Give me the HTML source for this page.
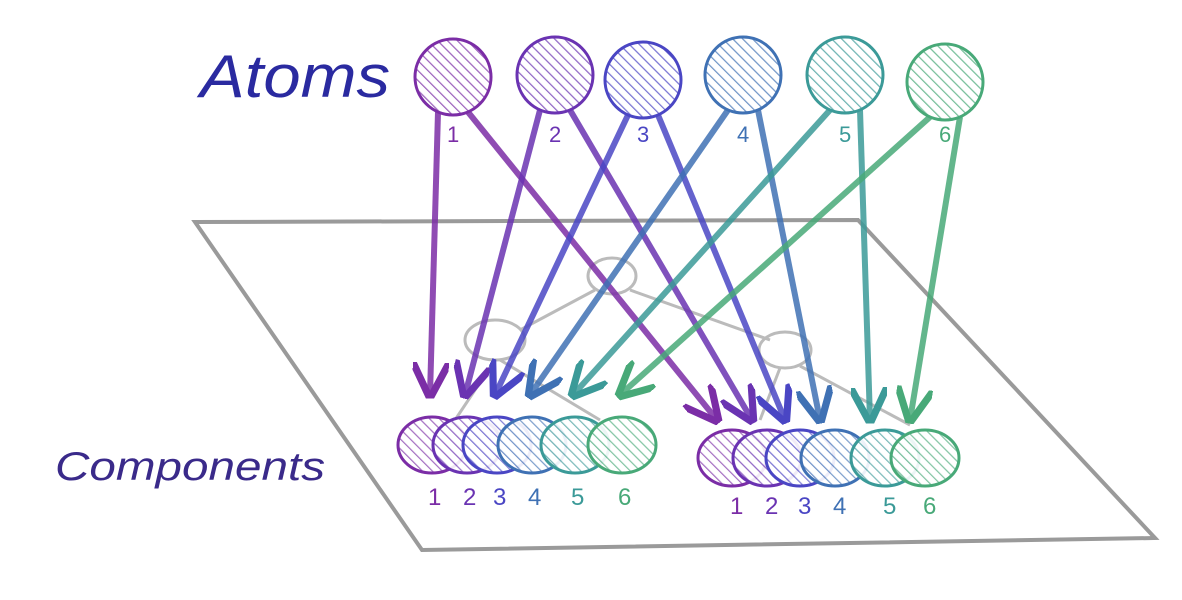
<!DOCTYPE html>
<html><head><meta charset="utf-8"><style>
html,body{margin:0;padding:0;background:#fff;width:1182px;height:600px;overflow:hidden}
svg text{font-family:"Liberation Sans",sans-serif}
</style></head><body>
<svg id="chart" width="1182" height="600" viewBox="0 0 1182 600" xmlns="http://www.w3.org/2000/svg">
<defs>
<marker id="ah" viewBox="0 0 10 10" refX="9" refY="5" markerWidth="6" markerHeight="6" orient="auto-start-reverse" markerUnits="strokeWidth"><path d="M0,0 L10,5 L0,10" fill="none" stroke="context-stroke" stroke-width="2"/></marker>
</defs>
<g id="plane">
<polygon points="195,222 858,220 1155,538 422,550" fill="none" stroke="#9a9a9a" stroke-width="4"/>
</g>
<g stroke="#bbb" stroke-width="3" fill="none">
<ellipse cx="612" cy="276" rx="24" ry="18"/><ellipse cx="495" cy="340" rx="30" ry="20"/><ellipse cx="785" cy="350" rx="26" ry="18"/>
<line x1="595" y1="290" x2="520" y2="330"/><line x1="630" y1="290" x2="770" y2="340"/>
<line x1="495" y1="360" x2="455" y2="420"/><line x1="500" y1="360" x2="600" y2="420"/>
<line x1="780" y1="368" x2="760" y2="420"/><line x1="800" y1="366" x2="910" y2="425"/>
</g>
<text x="200" y="97" font-size="60" fill="#2a2aa0" font-style="italic" textLength="190" lengthAdjust="spacingAndGlyphs">Atoms</text>
<text x="55" y="480" font-size="40" fill="#3a2a8a" font-style="italic" textLength="270" lengthAdjust="spacingAndGlyphs">Components</text>
<g id="content"></g>
</svg>
<script>
const colors=["#7b2da6","#6a33b2","#4a46c4","#3f71b4","#3b9a98","#48a978"];
const atomLabels=["1","2","3","4","5","6"];
const atomX=[453,555,643,743,845,945];
const atomY=[77,75,80,75,75,82];
const leftX=[432,467,497,532,575,622];
const rightX=[732,767,800,835,885,925];
const ns="http://www.w3.org/2000/svg";
const g=document.getElementById('content');
const defs=document.querySelector('defs');
function mk(t,a,p){const e=document.createElementNS(ns,t);for(const k in a)e.setAttribute(k,a[k]);(p||g).appendChild(e);return e;}
colors.forEach((c,i)=>{const p=mk('pattern',{id:'h'+i,width:7,height:7,patternUnits:'userSpaceOnUse',patternTransform:'rotate(-45)'},defs);mk('rect',{width:7,height:7,fill:'#fff'},p);mk('line',{x1:0,y1:0,x2:0,y2:7,stroke:c,'stroke-width':2.5,opacity:0.75},p);});
function comp(x,y,i,side){const e=mk('ellipse',{cx:x,cy:y,rx:34,ry:28,fill:'url(#h'+i+')',stroke:colors[i],'stroke-width':3,'fill-opacity':0.9});

}
leftX.forEach((x,i)=>comp(x,445,i,'left'));
rightX.forEach((x,i)=>comp(x,458,i,'right'));
leftX.forEach((x,i)=>{const t=mk('text',{x:x-4,y:505,'font-size':24,fill:colors[i]});t.textContent=atomLabels[i];

});
rightX.forEach((x,i)=>{const t=mk('text',{x:x-2,y:514,'font-size':24,fill:colors[i]});t.textContent=atomLabels[i];

});
atomX.forEach((x,i)=>{
 const a=mk('line',{x1:x-15,y1:atomY[i]+35,x2:leftX[i]-2,y2:395,stroke:colors[i],'stroke-width':6,'stroke-opacity':0.85,'marker-end':'url(#ah)'});
 
 
 const b=mk('line',{x1:x+15,y1:atomY[i]+35,x2:rightX[i]-15,y2:420,stroke:colors[i],'stroke-width':6,'stroke-opacity':0.85,'marker-end':'url(#ah)'});
 
 
});
atomX.forEach((x,i)=>{const c=mk('circle',{cx:x,cy:atomY[i],r:38,fill:'url(#h'+i+')',stroke:colors[i],'stroke-width':3});


const t=mk('text',{x:x-6,y:142,'font-size':22,fill:colors[i]});t.textContent=atomLabels[i];

});
</script>
</body></html>
